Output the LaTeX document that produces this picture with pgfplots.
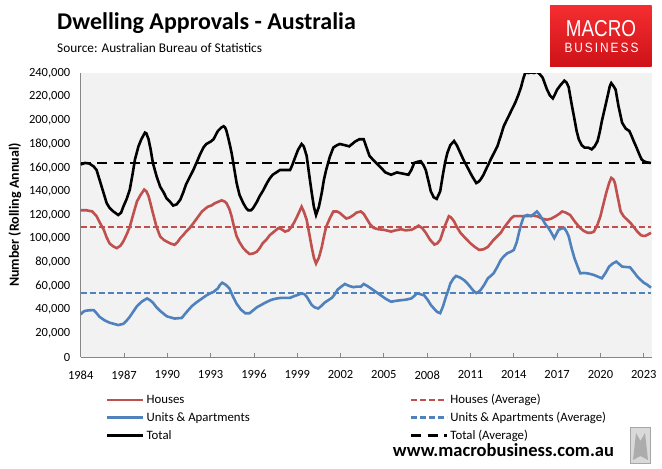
\documentclass[border=0pt]{standalone}
\usepackage{fontspec}
\setmainfont{Carlito}
\newfontfamily\logofont{Liberation Sans}
\usepackage{pgfplots}
\pgfplotsset{compat=1.18}
\definecolor{houses}{RGB}{192,80,77}
\definecolor{units}{RGB}{79,129,189}
\definecolor{plotbg}{RGB}{242,242,242}
\definecolor{axisgray}{RGB}{134,134,134}
\definecolor{logotop}{RGB}{245,45,48}
\definecolor{logobot}{RGB}{205,18,24}

\pgfplotstableread{
x y
1984.0 162.7
1984.3 164
1984.6 163.5
1984.9 161
1985.1 158
1985.3 150
1985.45 144
1985.65 136
1985.8 130
1986.0 126
1986.26 123
1986.6 120
1986.8 122
1986.95 127
1987.2 134
1987.4 141.5
1987.6 155
1987.76 167
1988.0 178
1988.2 184
1988.45 189.6
1988.55 189
1988.7 184
1988.85 175
1989.0 164
1989.25 153
1989.5 144
1989.75 139
1989.95 134
1990.2 131
1990.4 128
1990.65 129
1990.9 133
1991.1 139
1991.3 146
1991.55 152
1991.8 158
1992.05 165
1992.26 171
1992.5 177
1992.7 180
1993.0 182
1993.2 184
1993.5 191
1993.75 194
1993.9 195
1994.0 194
1994.1 191
1994.3 181
1994.45 172.6
1994.65 158
1994.8 147
1995.0 137
1995.26 130
1995.45 126
1995.6 124
1995.8 124
1995.95 126
1996.2 131
1996.4 136
1996.65 141
1996.9 147
1997.1 151
1997.3 154
1997.55 156
1997.8 158
1998.2 158
1998.5 158
1998.65 162
1998.8 167
1999.05 175
1999.3 180
1999.45 178
1999.65 170
1999.85 152
2000.0 139
2000.15 127
2000.3 120
2000.5 127
2000.7 139
2000.85 150
2001.0 158
2001.25 169
2001.5 177
2001.75 179
2001.95 180
2002.3 179
2002.6 178
2002.8 180
2003.0 182
2003.3 184
2003.6 184
2003.8 177
2004.0 170
2004.3 166
2004.55 163
2004.8 160
2005.1 156
2005.5 154
2005.9 156
2006.3 155
2006.7 154
2006.9 158
2007.1 164
2007.35 165
2007.55 165.5
2007.75 162
2007.9 158
2008.1 148
2008.25 140
2008.45 135
2008.66 133.6
2008.9 140
2009.1 155
2009.25 165
2009.4 172.6
2009.6 179
2009.86 182.5
2010.05 179
2010.2 175
2010.5 167
2010.8 160
2011.1 153
2011.4 147
2011.55 148
2011.7 150
2011.9 154
2012.05 158
2012.25 163
2012.4 167
2012.65 173
2012.86 178
2013.1 187
2013.3 195
2013.5 200
2013.7 205
2013.9 210
2014.1 215
2014.3 221
2014.5 228
2014.65 235
2014.8 240.5
2015.0 240
2015.2 240.5
2015.4 240
2015.6 241
2015.8 239
2016.0 236
2016.15 231
2016.3 226
2016.5 221
2016.7 218.5
2016.85 222
2017.0 226
2017.25 230
2017.5 233.5
2017.65 232
2017.8 228
2018.0 214
2018.2 201
2018.35 191
2018.5 184
2018.7 179
2018.9 177
2019.15 177
2019.4 175.5
2019.6 178
2019.8 182.5
2019.95 190
2020.1 199.5
2020.3 210
2020.5 220.7
2020.65 229
2020.75 231.5
2020.9 229
2021.05 226
2021.25 212
2021.5 198
2021.75 193
2022.0 191
2022.15 187
2022.3 182.5
2022.5 177
2022.7 171
2022.85 167
2023.0 165.5
2023.2 164.5
2023.5 164
}\total

\pgfplotstableread{
x y
1984.0 124
1984.4 124
1984.8 123
1985.1 119
1985.35 113
1985.6 107.5
1985.8 101
1986.0 96
1986.25 93.5
1986.5 92
1986.75 94
1986.95 97.6
1987.2 104
1987.4 110
1987.65 121
1987.9 131.6
1988.15 137
1988.4 141.5
1988.55 140
1988.7 136
1988.85 129
1989.0 121.7
1989.25 110
1989.5 102
1989.75 99
1989.95 97.6
1990.2 96
1990.5 94.8
1990.7 97
1990.9 100.5
1991.1 103
1991.3 106
1991.55 109
1991.8 113
1992.1 118
1992.4 123
1992.6 125
1992.8 127
1993.05 128
1993.3 130
1993.5 131
1993.76 132.4
1993.95 131.5
1994.1 130
1994.3 125
1994.45 119
1994.6 111
1994.8 102
1995.0 97
1995.26 92
1995.5 89
1995.7 87
1995.95 87.5
1996.2 89
1996.4 92
1996.6 96
1996.85 99
1997.1 103
1997.4 106
1997.7 109
1997.9 108
1998.15 106
1998.4 107
1998.6 110
1998.8 114
1999.0 119
1999.15 123
1999.3 127
1999.45 123
1999.65 116
1999.85 103
2000.0 93
2000.15 84
2000.3 79
2000.5 84
2000.7 93
2000.85 102
2001.0 110
2001.25 117
2001.5 123
2001.75 123
2001.95 121.7
2002.2 119
2002.4 117
2002.65 118
2002.9 120
2003.1 122
2003.4 123
2003.6 121
2003.85 116
2004.05 112
2004.3 109
2004.6 108
2005.0 107.5
2005.5 106
2005.8 107
2006.2 108
2006.5 107
2006.9 107.5
2007.15 109
2007.4 111
2007.65 109
2007.9 105
2008.2 99
2008.5 95
2008.7 96
2008.9 99
2009.2 110
2009.5 119
2009.65 118
2009.86 114.6
2010.05 110
2010.3 105
2010.6 101
2011.0 96
2011.3 93
2011.6 90.5
2011.9 91
2012.2 93
2012.4 96
2012.6 99
2012.85 102
2013.1 105
2013.3 109
2013.55 113
2013.8 117
2014.0 119
2014.45 119
2014.9 119
2015.25 119.5
2015.6 119
2015.95 117
2016.3 116
2016.6 117
2016.9 119
2017.15 121
2017.35 123
2017.6 122
2017.9 120
2018.25 114
2018.6 109
2018.85 106.5
2019.1 105
2019.35 105
2019.55 106
2019.8 112
2020.0 119
2020.2 129
2020.4 138.7
2020.6 147
2020.75 151.4
2020.9 150
2021.0 147
2021.2 135
2021.4 123
2021.6 119
2021.85 116
2022.1 113
2022.3 110
2022.55 106
2022.8 103
2022.95 102.4
2023.1 102.4
2023.3 103.5
2023.5 105
}\houses

\pgfplotstableread{
x y
1984.0 36
1984.15 38
1984.3 39
1984.6 39.5
1984.9 39.6
1985.1 37
1985.3 34
1985.65 31
1986.0 29
1986.3 28
1986.6 27
1986.95 28
1987.2 31
1987.4 34
1987.65 38.5
1987.9 43
1988.25 47
1988.6 49.5
1988.8 48
1989.0 46
1989.25 42
1989.5 39
1989.75 36.5
1989.95 34.5
1990.2 33.5
1990.5 32.5
1991.0 33
1991.2 36
1991.45 39.6
1991.7 43
1992.0 46
1992.35 49
1992.7 52
1993.0 54
1993.2 55
1993.5 58
1993.65 61
1993.8 62.8
1994.05 61
1994.3 58
1994.55 51
1994.8 45
1995.1 40
1995.4 37
1995.7 37
1995.95 39.5
1996.2 42
1996.5 44
1996.8 46
1997.05 47.5
1997.3 48.7
1997.6 49.5
1997.9 50
1998.5 50
1998.8 51.5
1999.05 52.5
1999.3 53.8
1999.5 53
1999.65 51
1999.85 47
2000.0 44
2000.2 42
2000.45 41
2000.7 43.5
2000.9 46
2001.15 48
2001.4 50
2001.6 53
2001.8 57
2002.05 59.5
2002.3 61.7
2002.6 60
2002.9 59
2003.1 59.5
2003.4 59.4
2003.6 61.7
2003.85 60
2004.1 58
2004.45 55
2004.8 52
2005.15 49
2005.5 46.7
2005.85 47.5
2006.2 48
2006.55 48.5
2006.9 49.5
2007.1 51.5
2007.3 53.8
2007.55 53
2007.8 52
2008.05 48
2008.25 44
2008.5 40.5
2008.7 38
2008.9 37
2009.1 43
2009.3 51
2009.45 56
2009.6 62
2009.8 66
2010.0 68.5
2010.3 67
2010.55 65
2010.8 62
2011.0 59
2011.2 56
2011.4 54
2011.55 55
2011.7 56.6
2011.95 61
2012.2 66.5
2012.4 68.5
2012.6 70.7
2012.85 76
2013.1 82
2013.3 85
2013.55 87.7
2013.8 89
2014.0 90.5
2014.2 97
2014.35 104.7
2014.5 112
2014.7 119
2014.95 120
2015.2 119
2015.4 121
2015.6 123
2015.8 120
2016.0 116
2016.2 112
2016.4 109
2016.6 105
2016.8 100.5
2016.95 104
2017.1 107.5
2017.3 108.5
2017.5 109
2017.65 106
2017.8 102
2018.0 92
2018.2 83.5
2018.4 77
2018.6 70.7
2018.85 71
2019.1 70.7
2019.35 70
2019.55 69.3
2019.8 68
2020.1 66.5
2020.35 71
2020.6 76.4
2020.85 79
2021.1 80.6
2021.3 78.5
2021.5 76.4
2021.8 76
2022.05 75.8
2022.3 72
2022.55 68
2022.8 65
2023.0 62.8
2023.25 61
2023.5 58.6
}\units

\begin{document}
\begin{tikzpicture}
\path[use as bounding box] (0pt,0pt) rectangle (662pt,469pt);
% title block
\node[anchor=base west, inner sep=0pt, font=\fontsize{24}{28}\selectfont\bfseries] at (57pt,439pt) {Dwelling Approvals - Australia};
\node[anchor=base west, inner sep=0pt, font=\fontsize{13.3}{16}\selectfont] at (57pt,416pt) {Source: Australian Bureau of Statistics};
% logo
\shade[top color=logotop, bottom color=logobot] (550pt,402pt) rectangle (651.7pt,463pt);
\node[text=white, inner sep=0pt, font=\logofont\fontsize{23}{26}\selectfont, xscale=0.82] at (601pt,440.5pt) {MACRO};
\node[text=white, inner sep=0pt, font=\logofont\fontsize{13.5}{16}\selectfont, xscale=0.88] at (601.5pt,421.5pt) {B\,U\,S\,I\,N\,E\,S\,S};
% website and wolf
\node[inner sep=0pt, font=\fontsize{18.5}{21}\selectfont\bfseries] at (503.5pt,19pt) {www.macrobusiness.com.au};
\draw[gray!70, line width=1pt, fill=gray!30] (630.5pt,5.5pt) rectangle (650.5pt,41pt);
\fill[gray!65] (633pt,9pt) -- (636pt,36pt) -- (640.5pt,28pt) -- (645pt,36pt) -- (648pt,9pt) -- (640.5pt,13pt) -- cycle;

\begin{axis}[
  at={(80.7pt,112pt)}, anchor=south west,
  scale only axis, width=571pt, height=284pt,
  xmin=1984, xmax=2023.55, ymin=0, ymax=240,
  axis background/.style={fill=plotbg},
  axis x line*=bottom, axis y line*=left,
  axis line style={draw=axisgray, line width=1pt, -},
  xtick={1984,1987,...,2023},
  x tick label style={/pgf/number format/1000 sep={}, font=\fontsize{12.5}{14}\selectfont, yshift=-10pt},
  xtick align=inside, major tick length=3.5pt,
  x tick style={draw=axisgray, line width=0.8pt},
  ytick={0,20,...,240},
  yticklabels={0,{20,000},{40,000},{60,000},{80,000},{100,000},{120,000},{140,000},{160,000},{180,000},{200,000},{220,000},{240,000}},
  y tick label style={font=\fontsize{12.5}{14}\selectfont, xshift=-7pt},
  y tick style={draw=none},
  /pgf/number format/assume math mode=true,
  ylabel={Number (Rolling Annual)},
  ylabel style={font=\fontsize{14}{16}\selectfont\bfseries, at={(axis description cs:-0.1155,0.5)}, anchor=center},
  clip=true,
  legend columns=2,
  legend cell align=left,
  legend image code/.code={\draw[#1] (0pt,0pt) -- (36pt,0pt);},
  legend style={at={(axis description cs:0.044,-0.124)}, anchor=north west, draw=none, fill=none,
    font=\fontsize{12.8}{14}\selectfont, inner sep=0pt, row sep=3pt,
    /tikz/every even column/.append style={column sep=158pt}},
]
\addplot[houses, line width=2.6pt] table {\houses};
\addlegendentry{Houses}
\addplot[houses, line width=2.6pt, dash pattern=on 6pt off 3pt] coordinates {(1984,110) (2023.5,110)};
\addlegendentry{Houses (Average)}
\addplot[units, line width=2.6pt] table {\units};
\addlegendentry{Units \& Apartments}
\addplot[units, line width=2.6pt, dash pattern=on 6pt off 3pt] coordinates {(1984,54) (2023.5,54)};
\addlegendentry{Units \& Apartments (Average)}
\addplot[black, line width=2.6pt] table {\total};
\addlegendentry{Total}
\addplot[black, line width=2.6pt, dash pattern=on 10pt off 6.5pt] coordinates {(1984,164) (2023.5,164)};
\addlegendentry{Total (Average)}
\end{axis}
\end{tikzpicture}
\end{document}
